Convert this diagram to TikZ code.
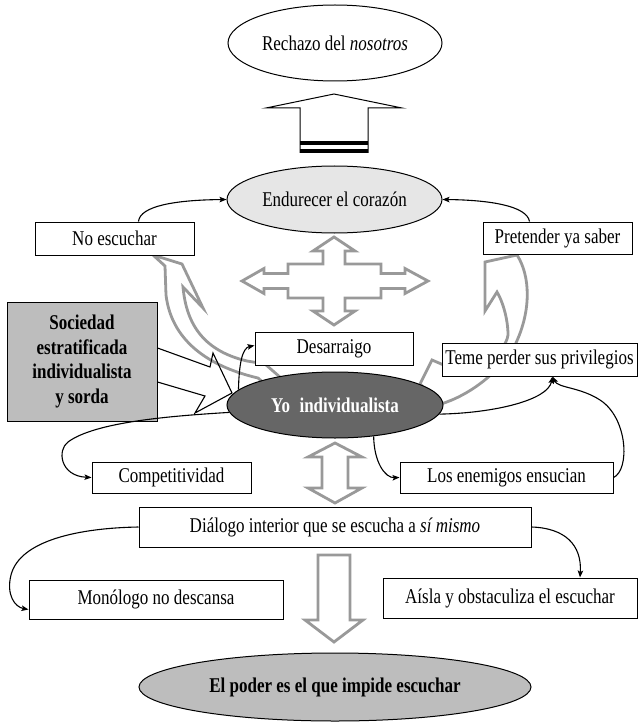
\documentclass[tikz,border=0pt]{standalone}
\usepackage{fontspec}
\setmainfont{Liberation Serif}[FakeStretch=0.81]
\usetikzlibrary{shapes.geometric,arrows.meta}
\definecolor{arrowgray}{HTML}{999999}
\definecolor{palefill}{HTML}{E6E6E6}
\definecolor{midfill}{HTML}{BDBDBD}
\definecolor{yofill}{HTML}{666666}
\begin{document}
\begin{tikzpicture}[x=1pt,y=-1pt,
  every node/.style={font=\fontsize{21}{24}\selectfont},
  box/.style={draw, fill=white, line width=1pt, inner sep=0pt, minimum height=33pt},
  oval/.style={ellipse, draw, line width=1pt, inner sep=0pt},
  conn/.style={line width=1.1pt, -{Stealth[length=7pt,width=5.5pt,inset=1.5pt]}},
  hollow/.style={draw=arrowgray, line width=2.8pt, fill=white, line join=miter},
  boldtext/.style={font=\fontsize{21}{24.5}\selectfont\bfseries}
]
\useasboundingbox (0,0) rectangle (640,722);

% curved hollow arrows rising from the central ellipse
\draw[hollow] (153,255) -- (182,264) -- (203,308) -- (183,287)
  .. controls (186,320) and (200,350) .. (247,361) -- (265,364) -- (281,378)
  -- (272,390) -- (258,378) .. controls (215,368) and (172,345) .. (166,295)
  -- (165,266) -- cycle;
\draw[hollow] (420,384) -- (432,360) -- (446,366)
  .. controls (480,362) and (505,355) .. (508,335)
  .. controls (508,318) and (502,300) .. (497,292) -- (485,311) -- (485,262)
  -- (517,255) .. controls (530,275) and (532,310) .. (515,345)
  .. controls (500,372) and (470,395) .. (441,404) -- cycle;

% four-way hollow arrow
\draw[hollow] (334,237) -- (355,251) -- (345,251) -- (345,264) -- (381,264)
  -- (381,273.5) -- (405,273.5) -- (405,268.5) -- (428,281) -- (405,293.5)
  -- (405,288.5) -- (381,288.5) -- (381,298) -- (345,298) -- (345,311)
  -- (355,311) -- (334,325) -- (313,311) -- (323,311) -- (323,298)
  -- (288,298) -- (288,288.5) -- (264,288.5) -- (264,293.5) -- (242,281)
  -- (264,268.5) -- (264,273.5) -- (288,273.5) -- (288,264) -- (323,264)
  -- (323,251) -- (313,251) -- cycle;

% double hollow arrow and downward hollow arrow
\draw[hollow] (335,443) -- (362,457) -- (348,457) -- (348,488) -- (362,488)
  -- (335,503) -- (308,488) -- (322,488) -- (322,457) -- (308,457) -- cycle;
\draw[hollow] (318,555) -- (350,555) -- (350,620) -- (363,620) -- (334,642)
  -- (305,620) -- (318,620) -- cycle;

% block arrow towards the top ellipse
\draw[line width=1pt, fill=white, line join=miter] (300,153) -- (300,108) -- (266,108)
  -- (334,94) -- (402,108) -- (368,108) -- (368,153);
\fill (300,141.5) rectangle (368,145.5);
\fill (300,149) rectangle (368,153);

% ellipses
\node[oval, fill=white, minimum width=214pt, minimum height=76pt] (rech) at (335,43)
  {Rechazo del \textit{nosotros}};
\node[oval, fill=palefill, minimum width=215pt, minimum height=67pt] (endu) at (334.5,199.5)
  {Endurecer el corazón};
\node[oval, fill=yofill, minimum width=216pt, minimum height=66pt, text=white, boldtext] (yo)
  at (335,405) {Yo\hspace{0.45em}individualista};
\node[oval, fill=midfill, minimum width=392pt, minimum height=68pt, boldtext] (poder)
  at (335,687) {El poder es el que impide escuchar};

% boxes
\node[box, minimum width=159pt] (noesc) at (114.5,238.5) {No escuchar};
\node[box, minimum width=149pt, minimum height=32pt] (pret) at (557.5,238) {Pretender ya saber};
\node[box, minimum width=158pt] (desarr) at (334,348.5) {Desarraigo};
\node[box, minimum width=195pt] (teme) at (539.5,359.5) {Teme perder sus privilegios};
\node[box, fill=midfill, minimum width=150pt, minimum height=119pt, align=center, boldtext]
  (soc) at (82,361.5) {Sociedad\\estratificada\\individualista\\y sorda};
\node[box, minimum width=159pt, minimum height=31pt] (compet) at (171.5,477.5) {Competitividad};
\node[box, minimum width=213pt, minimum height=31pt] (enem) at (506.5,477.5) {Los enemigos ensucian};
\node[box, minimum width=392pt, minimum height=40pt] (dialog) at (335,527)
  {Diálogo interior que se escucha a \textit{sí mismo}};
\node[box, minimum width=254pt, minimum height=39pt] (monol) at (156,599.5) {Monólogo no descansa};
\node[box, minimum width=254pt, minimum height=40pt] (aisla) at (510,598)
  {Aísla y obstaculiza el escuchar};

% connectors
\draw[conn] ([xshift=24pt]noesc.north) .. controls (140,206) and (175,200) .. (endu.west);
\draw[conn] ([xshift=-28pt]pret.north) .. controls (527,206) and (490,200) .. (endu.east);
\draw[conn] (yo.171) .. controls (239,365) and (242,348) .. ([yshift=3pt]desarr.west);
\draw[conn] (yo.184) .. controls (170,416) and (95,422) .. (68,442)
  .. controls (57,450) and (60,476) .. (compet.west);
\draw[conn] (yo.355) .. controls (495,413) and (548,400) .. ([xshift=13pt]teme.south);
\draw[conn] (enem.east) .. controls (630,470) and (628,418) .. (600,400)
  .. controls (580,387) and (558,388) .. ([xshift=13pt]teme.south);
\draw[conn] (yo.-39) .. controls (374,462) and (385,478) .. (enem.west);
\draw[conn] (dialog.west) .. controls (80,528) and (20,540) .. (11,575)
  .. controls (6,595) and (15,607) .. ([yshift=-10pt]monol.west);
\draw[conn] (dialog.east) .. controls (565,528) and (582,545) .. ([xshift=70pt]aisla.north);

% callout from the society box
\draw[line width=1.1pt, line join=miter] ([yshift=13.5pt]soc.east) -- (210,367) -- (213,353)
  -- (232,393) -- (195,413) -- (205,396) -- ([yshift=-20.5pt]soc.east);
\end{tikzpicture}
\end{document}
